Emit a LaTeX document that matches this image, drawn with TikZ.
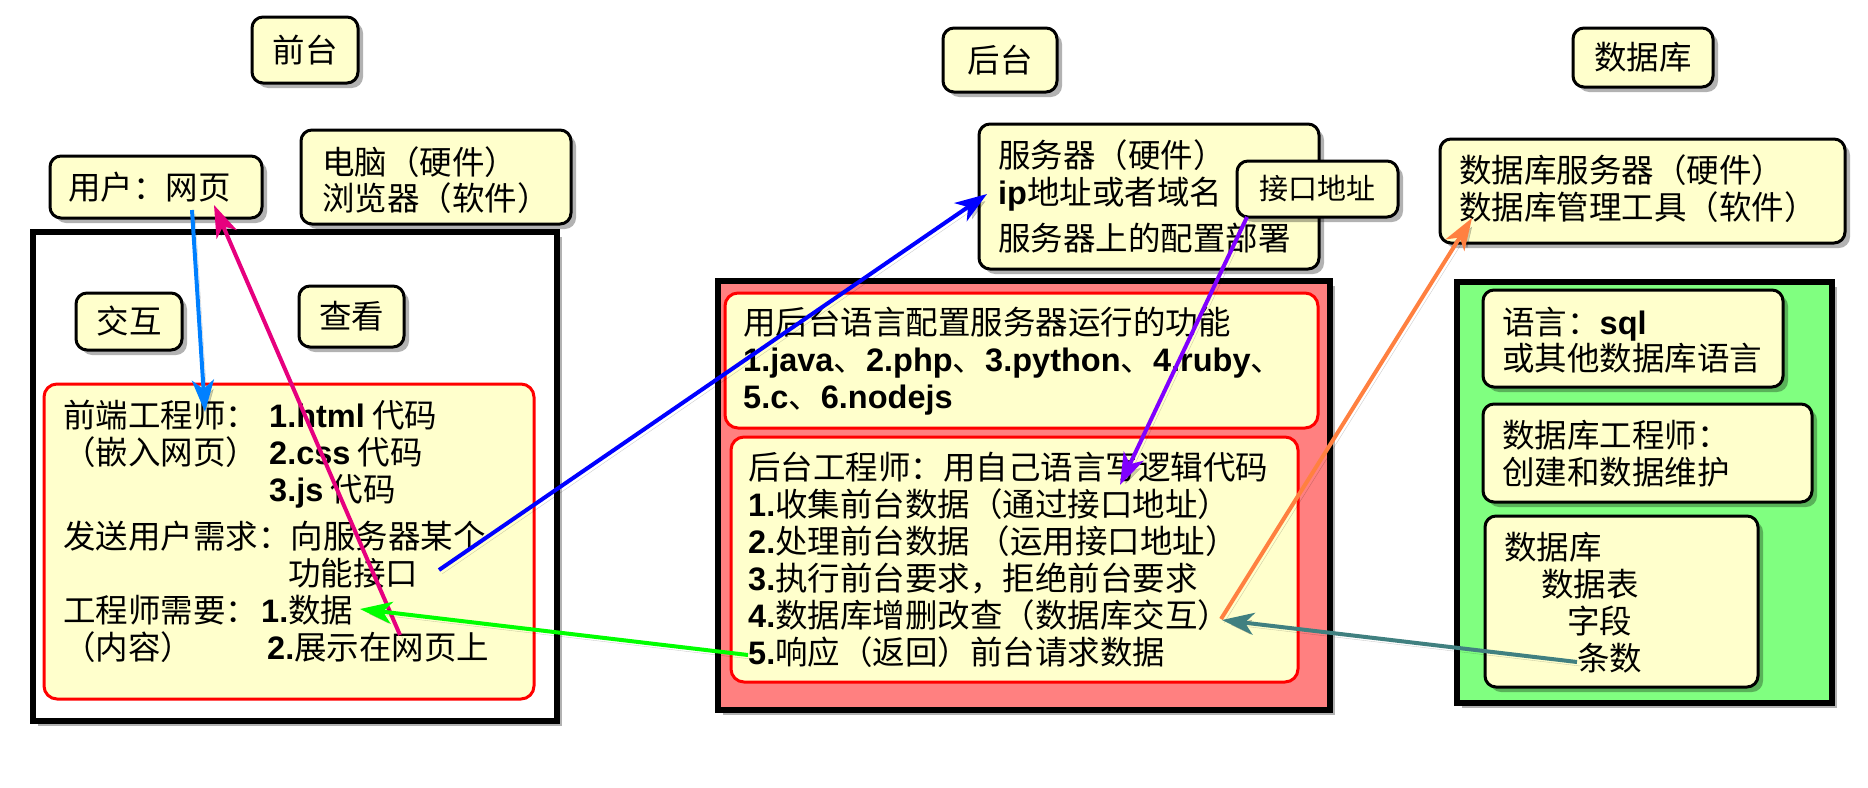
\documentclass[tikz,border=0pt]{standalone}
\usepackage{fontspec}
\setmainfont{Noto Sans CJK SC}
\newfontfamily\latf{Liberation Sans}
\newcommand\lb[1]{{\latf\bfseries #1}}
\usetikzlibrary{arrows.meta,shadows}
\definecolor{cream}{HTML}{FFFFCC}
\definecolor{bered}{HTML}{FF8080}
\definecolor{dbgreen}{HTML}{80FF80}
\definecolor{arrlblue}{HTML}{0080FF}
\definecolor{arrpink}{HTML}{E6007E}
\definecolor{arrblue}{HTML}{0000FF}
\definecolor{arrpurple}{HTML}{8000FF}
\definecolor{arrorange}{HTML}{FF8040}
\definecolor{arrteal}{HTML}{408080}
\definecolor{arrgreen}{HTML}{00FF00}
\begin{document}
\begin{tikzpicture}[x=1pt,y=-1pt,
  shad/.style={drop shadow={shadow xshift=5pt,shadow yshift=-5pt,opacity=0.3,fill=black}},
  ybox/.style={draw=black,line width=3pt,rounded corners=11pt,fill=cream,shad,inner sep=0pt,
    font=\fontsize{32.5}{37}\selectfont},
  rbox/.style={draw=red,line width=3pt,rounded corners=13pt,fill=cream,inner sep=0pt},
  framebox/.style={line width=5.5pt,draw=black,shad,inner sep=0pt},
  txt/.style={inner sep=0pt,anchor=base west,align=left,font=\fontsize{32.5}{37}\selectfont},
  arr/.style={line width=4pt,-{Stealth[length=32pt,width=22pt,inset=9pt]},
    preaction={draw=black,opacity=0.2,transform canvas={shift={(3pt,-4pt)}}}}]
\useasboundingbox (0,0) rectangle (1868,787);
% (multi-line text nodes are placed at the baseline of their last line)
% ---------- front end ----------
\node[ybox,minimum width=106pt,minimum height=66pt] (qiantai) at (305,50) {前台};
\node[ybox,minimum width=212pt,minimum height=62pt] (user) at (156,187) {};
\node[txt] (usert) at (68,199) {用户：网页};
\node[ybox,minimum width=270pt,minimum height=94pt] (pc) at (436,177) {};
\node[txt,font=\fontsize{32.5}{36}\selectfont] (pct) at (322,210) {电脑（硬件）\\浏览器（软件）};
\node[framebox,fill=white,minimum width=524pt,minimum height=489pt] (feframe) at (295,476.5) {};
\node[ybox,minimum width=106pt,minimum height=57pt] (jiaohu) at (129,321.5) {交互};
\node[ybox,minimum width=105pt,minimum height=61pt] (chakan) at (351.5,316.5) {查看};
\node[rbox,minimum width=490pt,minimum height=315pt] (fe) at (289,541.5) {};
\node[txt] (fet) at (63,659) {\makebox[206pt][l]{前端工程师：}\lb{1.html} 代码\\
\makebox[206pt][l]{（嵌入网页）}\lb{2.css} 代码\\
\hspace*{206pt}\lb{3.js} 代码\\[10pt]
发送用户需求：向服务器某个\\
\hspace*{225pt}功能接口\\
\makebox[198pt][l]{工程师需要：}\lb{1.}数据\\
\makebox[204pt][l]{（内容）}\lb{2.}展示在网页上};
% ---------- back end ----------
\node[ybox,minimum width=114pt,minimum height=64pt] (houtai) at (1000,60) {后台};
\node[ybox,minimum width=340pt,minimum height=145pt] (server) at (1149,196.5) {};
\node[txt] (servert) at (998,250) {服务器（硬件）\\\lb{ip}地址或者域名\\[9pt]服务器上的配置部署};
\node[ybox,minimum width=161pt,minimum height=56pt,font=\fontsize{29}{33}\selectfont] (jiekou) at (1317.5,189) {接口地址};
\node[framebox,fill=bered,minimum width=612pt,minimum height=429pt] (beframe) at (1024,495.5) {};
\node[rbox,minimum width=593pt,minimum height=135pt] (be1) at (1021.5,360.5) {};
\node[txt] (be1t) at (743,408) {用后台语言配置服务器运行的功能\\
\lb{1.java}、\lb{2.php}、\lb{3.python}、\lb{4.ruby}、\\
\lb{5.c}、\lb{6.nodejs}};
\node[rbox,minimum width=567pt,minimum height=245pt] (be2) at (1014.5,559.5) {};
\node[txt] (be2t) at (748,664) {后台工程师：用自己语言写逻辑代码\\
\lb{1.}收集前台数据（通过接口地址）\\
\lb{2.}处理前台数据 （运用接口地址）\\
\lb{3.}执行前台要求，拒绝前台要求\\
\lb{4.}数据库增删改查（数据库交互）\\
\lb{5.}响应（返回）前台请求数据};
% ---------- database ----------
\node[ybox,minimum width=140pt,minimum height=59pt] (dbtitle) at (1643,57.5) {数据库};
\node[ybox,minimum width=405pt,minimum height=104pt] (dbserver) at (1642.5,191) {};
\node[txt] (dbservert) at (1459,219) {数据库服务器（硬件）\\数据库管理工具（软件）};
\node[framebox,fill=dbgreen,minimum width=375pt,minimum height=421pt] (dbframe) at (1644.5,492.5) {};
\node[ybox,minimum width=300pt,minimum height=97pt] (lang) at (1633,338.5) {};
\node[txt,font=\fontsize{32.5}{36}\selectfont] (langt) at (1502,370) {语言：\lb{sql}\\或其他数据库语言};
\node[ybox,minimum width=329pt,minimum height=98pt] (dbeng) at (1647.5,453) {};
\node[txt] (dbengt) at (1502,484) {数据库工程师：\\创建和数据维护};
\node[ybox,minimum width=273pt,minimum height=171pt] (dbbox) at (1621.5,601.5) {};
\node[txt] (dbboxt) at (1504,670) {数据库\\\hspace*{37pt}数据表\\\hspace*{63pt}字段\\\hspace*{73pt}条数};
% ---------- connectors ----------
\coordinate (lbS) at (192,210);   \coordinate (lbE) at (205,412);
\coordinate (pkS) at (400,635);   \coordinate (pkE) at (214,205);
\coordinate (dbS) at (439,570);   \coordinate (dbE) at (987,194);
\coordinate (grS) at (748,655);   \coordinate (grE) at (360,609);
\coordinate (puS) at (1247,217);  \coordinate (puE) at (1120,485);
\coordinate (orS) at (1221,619);  \coordinate (orE) at (1472,218);
\coordinate (teS) at (1577,662);  \coordinate (teE) at (1222,620);
\draw[arr,arrlblue] (lbS) -- (lbE);
\draw[arr,arrpink] (pkS) -- (pkE);
\draw[arr,arrblue] (dbS) -- (dbE);
\draw[arr,arrgreen] (grS) -- (grE);
\draw[arr,arrpurple] (puS) -- (puE);
\draw[arr,arrorange] (orS) -- (orE);
\draw[arr,arrteal] (teS) -- (teE);
\end{tikzpicture}
\end{document}
